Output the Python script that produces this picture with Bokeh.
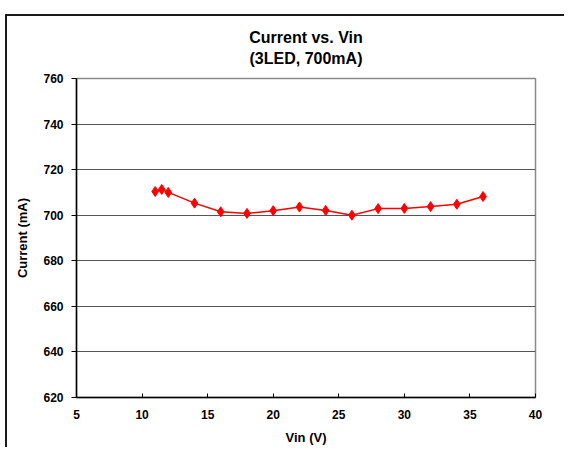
from bokeh.plotting import figure
from bokeh.models import SingleIntervalTicker, ColumnDataSource, Title
from bokeh.embed import file_html
from bokeh.resources import INLINE

vin = [11, 11.5, 12, 14, 16, 18, 20, 22, 24, 26, 28, 30, 32, 34, 36]
current = [710.4, 711.3, 710.0, 705.3, 701.5, 700.8, 702.0, 703.6, 702.1,
           700.0, 702.9, 703.0, 703.8, 704.8, 708.2]

title_lines = ["Current vs. Vin", "(3LED, 700mA)"]
x_label = "Vin (V)"
y_label = "Current (mA)"

src = ColumnDataSource(data=dict(vin=vin, current=current))

FONT = "Liberation Sans"

p = figure(frame_width=459, frame_height=319,
           x_range=(5, 40), y_range=(620, 760),
           min_border_left=69, min_border_right=29,
           min_border_top=62, min_border_bottom=45,
           output_backend="svg", toolbar_location=None)
p.styles = {"border-top": "2px solid #1a1a1a", "border-left": "2px solid #1a1a1a",
            "margin-top": "14px", "margin-left": "5px"}

def make_title(text, size, standoff=0):
    return Title(text=text, align="center", text_font=FONT, text_font_size=size,
                 text_font_style="bold", text_color="black", standoff=standoff)

# spacer between frame and title (nearest to the frame first)
p.add_layout(make_title(" ", "9px"), "above")
p.add_layout(make_title(title_lines[1], "16px"), "above")
p.add_layout(make_title(title_lines[0], "16px", standoff=3), "above")

p.outline_line_color = "#8a8a8a"
p.outline_line_width = 1.5

for ax in (p.xaxis[0], p.yaxis[0]):
    ax.axis_line_color = "black"
    ax.axis_line_width = 1.5
    ax.major_tick_line_color = "black"
    ax.minor_tick_line_color = None
    ax.major_label_text_font = FONT
    ax.major_label_text_font_size = "12px"
    ax.major_label_text_font_style = "bold"
    ax.major_label_text_color = "black"
    ax.axis_label_text_font = FONT
    ax.axis_label_text_font_size = "13px"
    ax.axis_label_text_font_style = "bold"
    ax.axis_label_text_color = "black"

p.xaxis.ticker = SingleIntervalTicker(interval=5)
p.yaxis.ticker = SingleIntervalTicker(interval=20)
p.xaxis.major_tick_in = 4
p.xaxis.major_tick_out = 0
p.yaxis.major_tick_in = 0
p.yaxis.major_tick_out = 5
p.xaxis.major_label_standoff = 8
p.yaxis.major_label_standoff = 8
p.xaxis.axis_label = x_label
p.yaxis.axis_label = y_label
p.xaxis.axis_label_standoff = 8
p.yaxis.axis_label_standoff = 10

p.xgrid.grid_line_color = None
p.ygrid.grid_line_color = "#555555"
p.ygrid.grid_line_width = 1
p.ygrid.ticker = SingleIntervalTicker(interval=20)

p.background_fill_color = "white"
p.border_fill_color = "white"

p.line("vin", "current", source=src, line_color="#ff0000", line_width=1.5)
p.scatter("vin", "current", source=src, marker="diamond", size=10,
          fill_color="#ff0000", line_color="#ff0000")

open("out.html", "w").write(file_html(p, INLINE))
